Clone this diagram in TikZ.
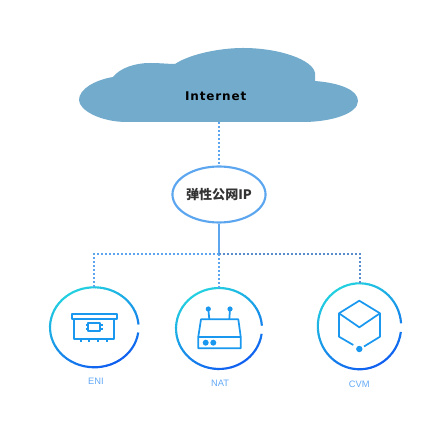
\documentclass[tikz,border=0pt]{standalone}
\usepackage{fontspec}
\usetikzlibrary{shapes.geometric}
\setmainfont{Liberation Sans}
\newfontfamily\cjkfont{Noto Sans CJK SC}
\newfontfamily\netfont[LetterSpace=7]{DejaVu Sans}
\definecolor{cloudblue}{RGB}{114,171,204}
\definecolor{linkblue}{RGB}{92,166,240}
\definecolor{linkdark}{RGB}{88,140,205}
\definecolor{ringcyan}{RGB}{34,208,224}
\definecolor{ringblue}{RGB}{16,96,240}
\definecolor{iconblue}{RGB}{26,152,240}
\definecolor{labelblue}{RGB}{100,170,245}
\tikzset{
  linkdot/.style={linkblue, line width=1.4pt, dash pattern=on 1.5pt off 1.5pt},
  linkright/.style={linkdark, line width=1.5pt, dash pattern=on 1.5pt off 1.5pt},
  ringnode/.style 2 args={ellipse, minimum width=#1*1.5pt, minimum height=#2*1.5pt, inner sep=0pt},
  ringline/.style={line width=1.6pt},
  iconline/.style={iconblue, line width=1.3pt, line join=round},
  caption/.style={labelblue, font=\fontsize{7}{8}\selectfont, inner sep=0pt}
}
\newcommand{\gradring}[3]{%
  \foreach \a in {4,10,...,350}{%
    \pgfmathsetmacro{\mixv}{50-50*cos(\a-115)}
    \draw[ringline, ringblue!\mixv!ringcyan] (#1.center) ++({#2*cos(\a)},{#3*sin(\a)}) arc[start angle=\a, delta angle=6.5, x radius=#2, y radius=#3];
  }%
}

\begin{document}
\begin{tikzpicture}[x=0.75pt,y=0.75pt]
  \useasboundingbox (0,0) rectangle (434,420);
  %% Cloud
  \fill[cloudblue] (127,298) .. controls (100,298) and (79,310) .. (79,320)
    .. controls (79,331) and (95,340) .. (113,343)
    .. controls (120,352) and (135,357) .. (150,357)
    .. controls (160,357) and (168,356) .. (175,356)
    .. controls (190,366) and (220,372) .. (243,372)
    .. controls (280,372) and (313,360) .. (315,347)
    -- (315,339)
    .. controls (340,337) and (358,330) .. (358,319)
    .. controls (358,306) and (330,298) .. (303,298) -- cycle;
  \node[font=\netfont\bfseries\fontsize{9}{11}\selectfont, inner sep=0pt] (internet) at (215.7,324) {Internet};
  \coordinate (cloudbase) at (219,298);
  %% Elastic IP
  \node[draw=linkblue, line width=1.6pt, fill=white, ellipse, minimum width=68pt, minimum height=42pt, inner sep=0pt,
    text=black!80, font=\cjkfont\bfseries\fontsize{9.8}{12}\selectfont] (eip) at (219,225.5) {弹性公网IP};
  %% Rings
  \node[ringnode={44.3}{40}] (eni) at (94.3,92.7) {};
  \node[ringnode={43}{40.5}] (nat) at (219,91.5) {};
  \node[ringnode={41.7}{43}] (cvm) at (359.5,93.7) {};
  \gradring{eni}{44.3}{40}
  \gradring{nat}{43}{40.5}
  \gradring{cvm}{41.7}{43}
  %% Links
  \coordinate (bus) at (219,166);
  \draw[linkdot] (cloudbase) -- (eip.north);
  \draw[linkblue, line width=1.4pt] (eip.south) -- (bus);
  \draw[linkdot] (bus) -| (eni.north);
  \draw[linkright] (bus) -| (cvm.north);
  \draw[linkdot] (bus) -- (nat.north);
  %% ENI card
  \draw[iconline] (71.7,105.7) rectangle (117.3,101);
  \draw[iconline] (74,101) -- (74,81) -- (114,81) -- (114,101);
  \foreach \px in {80.7,89.3,98.3,107.3} \draw[iconline] (\px,81) -- (\px,77.5);
  \draw[iconline] (88.3,89.3) rectangle (100.3,97);
  \draw[iconline] (85.5,91) -- (88.3,91) (85.5,95.3) -- (88.3,95.3) (100.3,91) -- (103,91) (100.3,95.3) -- (103,95.3);
  %% NAT router
  \draw[iconline] (201,100.7) -- (238.3,100.7) -- (240.7,83.3) -- (240.7,71.7) -- (198.3,71.7) -- (198.3,83.3) -- cycle;
  \draw[iconline] (198.3,83.3) -- (240.7,83.3);
  \draw[iconline] (209.3,100.7) -- (208.3,111) (229.3,100.7) -- (230,111);
  \fill[iconblue] (208.3,111) circle (2.6) (230,111) circle (2.6);
  \fill[iconblue] (205.7,77.3) circle (3) (213.3,77.3) circle (3);
  %% CVM cube
  \draw[iconline] (353.3,75) -- (339,83.3) -- (339,106.7) -- (359.3,119.3) -- (380,106.7) -- (380,83.3) -- (364,73.5);
  \draw[iconline] (339,106.7) -- (359.3,92.7) -- (380,106.7);
  \fill[iconblue] (359.3,71) circle (3.2);
  %% Captions
  \node[caption] (enilabel) at (96,39) {ENI};
  \node[caption] (natlabel) at (220,36.3) {NAT};
  \node[caption] (cvmlabel) at (359.3,36) {CVM};
\end{tikzpicture}
\end{document}
